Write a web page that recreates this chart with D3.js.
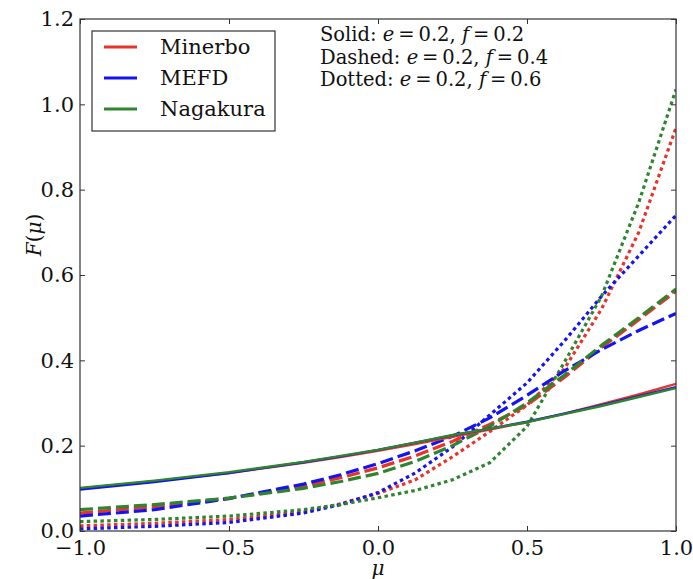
<!DOCTYPE html>
<html>
<head>
<meta charset="utf-8">
<script src="https://cdn.jsdelivr.net/npm/d3@7/dist/d3.min.js"></script>
<style>
  body { margin: 0; background: #fff; }
  svg { display: block; }
  text { font-family: "DejaVu Serif", serif; fill: #111; }
</style>
</head>
<body>
<svg id="chart" width="693" height="579"></svg>
<script>
// Angular distributions F(mu) for three closures at e = 0.2
const mu = [-1, -0.75, -0.5, -0.25, -0.125, 0, 0.125, 0.25, 0.375, 0.5, 0.625, 0.75, 0.875, 1];

// f = 0.2 (solid)
const minerboF02  = [0.100, 0.117, 0.136, 0.160, 0.173, 0.188, 0.204, 0.221, 0.238, 0.255, 0.275, 0.297, 0.320, 0.345];
const mefdF02     = [0.097, 0.115, 0.136, 0.161, 0.175, 0.190, 0.207, 0.224, 0.240, 0.256, 0.275, 0.295, 0.316, 0.337];
const nagakuraF02 = [0.101, 0.118, 0.138, 0.162, 0.176, 0.190, 0.207, 0.225, 0.240, 0.255, 0.274, 0.293, 0.314, 0.335];

// f = 0.4 (dashed)
const minerboF04  = [0.042, 0.057, 0.077, 0.105, 0.125, 0.148, 0.176, 0.210, 0.250, 0.295, 0.360, 0.430, 0.495, 0.562];
const mefdF04     = [0.035, 0.050, 0.076, 0.110, 0.132, 0.158, 0.188, 0.222, 0.265, 0.318, 0.375, 0.425, 0.470, 0.510];
const nagakuraF04 = [0.050, 0.062, 0.077, 0.100, 0.116, 0.135, 0.163, 0.200, 0.245, 0.300, 0.365, 0.435, 0.500, 0.567];

// f = 0.6 (dotted)
const minerboF06  = [0.012, 0.018, 0.027, 0.045, 0.064, 0.088, 0.120, 0.174, 0.233, 0.295, 0.380, 0.520, 0.700, 0.945];
const mefdF06     = [0.005, 0.011, 0.020, 0.042, 0.062, 0.090, 0.136, 0.197, 0.272, 0.347, 0.445, 0.550, 0.645, 0.740];
const nagakuraF06 = [0.022, 0.027, 0.035, 0.050, 0.062, 0.078, 0.095, 0.120, 0.160, 0.245, 0.395, 0.550, 0.770, 1.035];

const closures = ["Minerbo", "MEFD", "Nagakura"];
const closureColors = ["#e8322a", "#1414f0", "#2f852f"];
const xTicks = [-1.0, -0.5, 0.0, 0.5, 1.0];
const yTicks = [0.0, 0.2, 0.4, 0.6, 0.8, 1.0, 1.2];
const noteLines = [
  { style: "Solid:",  e: "0.2", f: "0.2" },
  { style: "Dashed:", e: "0.2", f: "0.4" },
  { style: "Dotted:", e: "0.2", f: "0.6" }
];

const series = [
  { name: "Minerbo",  dash: "solid",  values: minerboF02 },
  { name: "MEFD",     dash: "solid",  values: mefdF02 },
  { name: "Nagakura", dash: "solid",  values: nagakuraF02 },
  { name: "Minerbo",  dash: "dashed", values: minerboF04 },
  { name: "MEFD",     dash: "dashed", values: mefdF04 },
  { name: "Nagakura", dash: "dashed", values: nagakuraF04 },
  { name: "Minerbo",  dash: "dotted", values: minerboF06 },
  { name: "MEFD",     dash: "dotted", values: mefdF06 },
  { name: "Nagakura", dash: "dotted", values: nagakuraF06 }
];

const svg = d3.select("#chart");
const margin = { left: 80, right: 17, top: 19, bottom: 48 };
const W = 693, H = 579;

const x = d3.scaleLinear().domain([-1, 1]).range([margin.left, W - margin.right]);
const y = d3.scaleLinear().domain([0, 1.2]).range([H - margin.bottom, margin.top]);
const color = d3.scaleOrdinal().domain(closures).range(closureColors);

const styles = {
  solid:  { width: 2.4, dash: null },
  dashed: { width: 3.2, dash: "13,5" },
  dotted: { width: 3.2, dash: "3.5,3.3" }
};

svg.append("rect").attr("width", W).attr("height", H).attr("fill", "#fff");

svg.append("clipPath").attr("id", "plot-clip")
  .append("rect")
  .attr("x", x(-1)).attr("y", y(1.2))
  .attr("width", x(1) - x(-1)).attr("height", y(0) - y(1.2));

// curves
const line = d3.line()
  .x((d, i) => x(mu[i]))
  .y(d => y(d));

const order = ["dotted", "dashed", "solid"];
const plot = svg.append("g").attr("clip-path", "url(#plot-clip)");
order.forEach(st => {
  series.filter(s => s.dash === st).forEach(s => {
    plot.append("path")
      .attr("d", line(s.values))
      .attr("fill", "none")
      .attr("stroke", color(s.name))
      .attr("stroke-width", styles[st].width)
      .attr("stroke-dasharray", styles[st].dash)
      .attr("stroke-linejoin", "round");
  });
});

// axes: ticks point inward on all four sides
const fmt = d3.format(".1f");
const tickLen = 5;

const gx = svg.append("g").attr("transform", `translate(0,${y(0)})`)
  .call(d3.axisBottom(x).tickValues(xTicks).tickFormat(fmt).tickSizeInner(-tickLen).tickSizeOuter(0).tickPadding(9));
const gxTop = svg.append("g").attr("transform", `translate(0,${y(1.2)})`)
  .call(d3.axisTop(x).tickValues(xTicks).tickFormat("").tickSizeInner(-tickLen).tickSizeOuter(0));
const gy = svg.append("g").attr("transform", `translate(${x(-1)},0)`)
  .call(d3.axisLeft(y).tickValues(yTicks).tickFormat(fmt).tickSizeInner(-tickLen).tickSizeOuter(0).tickPadding(6));
const gyRight = svg.append("g").attr("transform", `translate(${x(1)},0)`)
  .call(d3.axisRight(y).tickValues(yTicks).tickFormat("").tickSizeInner(-tickLen).tickSizeOuter(0));

[gx, gxTop, gy, gyRight].forEach(g => {
  g.select(".domain").remove();
  g.selectAll(".tick line").attr("stroke", "#333").attr("stroke-width", 1);
  g.selectAll(".tick text")
    .style("font-family", "'DejaVu Serif', serif")
    .style("font-size", "21px")
    .attr("fill", "#111");
});

// frame
svg.append("rect")
  .attr("x", x(-1)).attr("y", y(1.2))
  .attr("width", x(1) - x(-1)).attr("height", y(0) - y(1.2))
  .attr("fill", "none").attr("stroke", "#333").attr("stroke-width", 1.2);

// axis titles
svg.append("text")
  .attr("x", x(0)).attr("y", 575)
  .attr("text-anchor", "middle")
  .style("font-size", "20px").style("font-style", "italic")
  .text("μ");

svg.append("text")
  .attr("transform", `translate(41,${(y(0) + y(1.2)) / 2 - 40}) rotate(-90)`)
  .attr("text-anchor", "middle")
  .style("font-size", "20px")
  .call(t => {
    t.append("tspan").style("font-style", "italic").text("F");
    t.append("tspan").text("(");
    t.append("tspan").style("font-style", "italic").text("μ");
    t.append("tspan").text(")");
  });

// legend
const legend = svg.append("g");
legend.append("rect")
  .attr("x", 92).attr("y", 31).attr("width", 183).attr("height", 100)
  .attr("fill", "#fff").attr("stroke", "#333").attr("stroke-width", 1.2);
closures.forEach((name, i) => {
  const cy = 47 + i * 31;
  legend.append("line")
    .attr("x1", 104).attr("x2", 137).attr("y1", cy).attr("y2", cy)
    .attr("stroke", color(name)).attr("stroke-width", 3);
  legend.append("text")
    .attr("x", 160).attr("y", cy + 7)
    .style("font-size", "21px")
    .text(name);
});

// parameter notes
noteLines.forEach((n, i) => {
  const t = svg.append("text")
    .attr("x", 320).attr("y", 41 + i * 22.5)
    .style("font-size", "19.5px");
  t.append("tspan").text(n.style + " ");
  t.append("tspan").style("font-style", "italic").text("e");
  t.append("tspan").text("\u2009=\u2009" + n.e + ", ");
  t.append("tspan").style("font-style", "italic").text("f");
  t.append("tspan").text("\u2009=\u2009" + n.f);
});
</script>
</body>
</html>
